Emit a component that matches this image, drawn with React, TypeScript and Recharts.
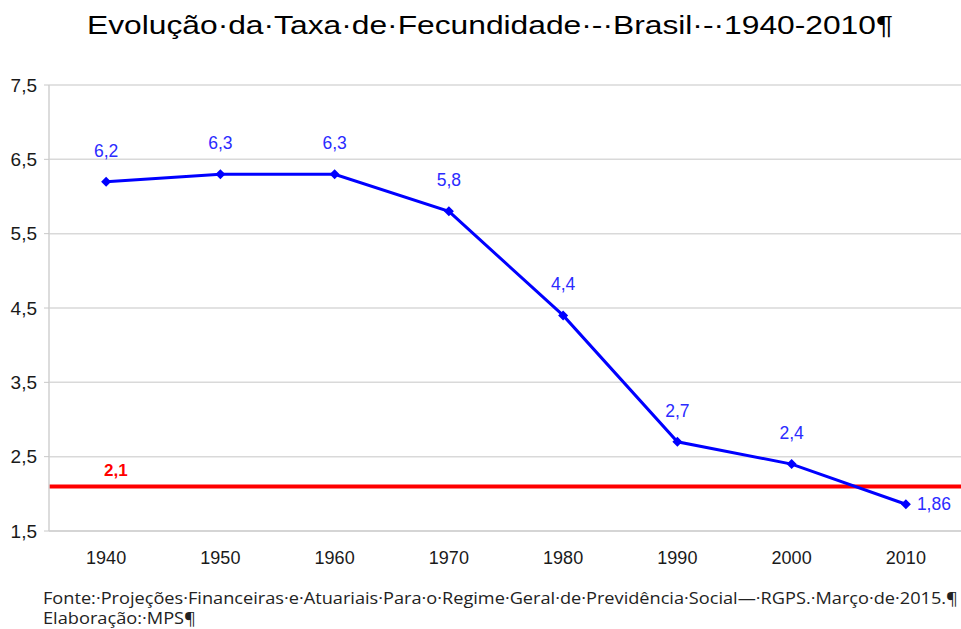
import { LineChart, Line, XAxis, YAxis, CartesianGrid, ReferenceLine, LabelList } from "recharts";

const years = [1940, 1950, 1960, 1970, 1980, 1990, 2000, 2010];
const rates = [6.2, 6.3, 6.3, 5.8, 4.4, 2.7, 2.4, 1.86];
const yTicks = [1.5, 2.5, 3.5, 4.5, 5.5, 6.5, 7.5];
const bandEdges = [1935, 1945, 1955, 1965, 1975, 1985, 1995, 2005, 2015];
const replacementRate = 2.1;

const title = "Evolução·da·Taxa·de·Fecundidade·-·Brasil·-·1940-2010¶";
const source = "Fonte:·Projeções·Financeiras·e·Atuariais·Para·o·Regime·Geral·de·Previdência·Social—·RGPS.·Março·de·2015.¶";
const credit = "Elaboração:·MPS¶";

const data = years.map((year, i) => ({ year, rate: rates[i] }));
const comma = (v: number) => String(v).replace(".", ",");
const FONT = "'Liberation Sans', Arial, sans-serif";

function Diamond(props: any) {
  const { cx, cy } = props;
  if (cx == null || cy == null) return null;
  return <polygon points={`${cx},${cy - 5} ${cx + 5},${cy} ${cx},${cy + 5} ${cx - 5},${cy}`} fill="#0000ff" />;
}

function PointLabel(props: any) {
  const { x, y, value, index } = props;
  const last = index === rates.length - 1;
  return (
    <text
      x={last ? x + 11 : x}
      y={last ? y + 6 : y - 25}
      textAnchor={last ? "start" : "middle"}
      fill="#2b2bff"
      fontSize={17.5}
      fontFamily={FONT}
    >
      {comma(value)}
    </text>
  );
}

export default function App() {
  return (
    <div style={{ position: "absolute", left: 0, top: 0, width: 961, height: 629, background: "#fff" }}>
      <svg width={961} height={629} style={{ position: "absolute", left: 0, top: 0 }}>
        <text x={87} y={34} fontSize={26} fontFamily={FONT} fill="#000" textLength={806} lengthAdjust="spacingAndGlyphs">
          {title}
        </text>
        <text x={43} y={604} fontSize={16} fontFamily="'Open Sans', sans-serif" fill="#222" textLength={915} lengthAdjust="spacingAndGlyphs">
          {source}
        </text>
        <text x={43} y={624} fontSize={16} fontFamily="'Open Sans', sans-serif" fill="#222" textLength={153} lengthAdjust="spacingAndGlyphs">
          {credit}
        </text>
      </svg>
      <div style={{ position: "absolute", left: 0, top: 0 }}>
        <LineChart width={961} height={629} data={data} margin={{ top: 85, right: -2, bottom: 68, left: 0 }}>
          <CartesianGrid vertical={false} stroke="#d9d9d9" strokeWidth={1.5} />
          <XAxis
            xAxisId="edges"
            type="number"
            dataKey="year"
            domain={[1935, 2015]}
            ticks={bandEdges}
            height={0}
            tick={false}
            tickSize={5}
            tickLine={{ stroke: "#c8c8c8" }}
            axisLine={false}
            allowDataOverflow
          />
          <XAxis
            type="number"
            dataKey="year"
            domain={[1935, 2015]}
            ticks={years}
            height={30}
            tickLine={false}
            axisLine={{ stroke: "#d0d0d0", strokeWidth: 1.5 }}
            tickMargin={14}
            tick={{ fill: "#1a1a1a", fontSize: 18, fontFamily: FONT }}
            allowDataOverflow
          />
          <YAxis
            domain={[1.5, 7.5]}
            ticks={yTicks}
            width={49}
            tickSize={5}
            tickMargin={7}
            tickFormatter={comma}
            tickLine={{ stroke: "#c8c8c8" }}
            axisLine={{ stroke: "#d0d0d0", strokeWidth: 1.5 }}
            tick={{ fill: "#1a1a1a", fontSize: 19, fontFamily: FONT }}
          />
          <ReferenceLine
            y={replacementRate}
            stroke="#ff0000"
            strokeWidth={4}
            label={(p: any) => (
              <text x={p.viewBox.x + 55} y={p.viewBox.y - 10} fill="#ff0000" fontSize={17} fontWeight="bold" fontFamily={FONT}>
                {comma(replacementRate)}
              </text>
            )}
          />
          <Line
            dataKey="rate"
            stroke="#0000ff"
            strokeWidth={3}
            dot={<Diamond />}
            activeDot={false}
            isAnimationActive={false}
          >
            <LabelList dataKey="rate" content={<PointLabel />} />
          </Line>
        </LineChart>
      </div>
    </div>
  );
}
